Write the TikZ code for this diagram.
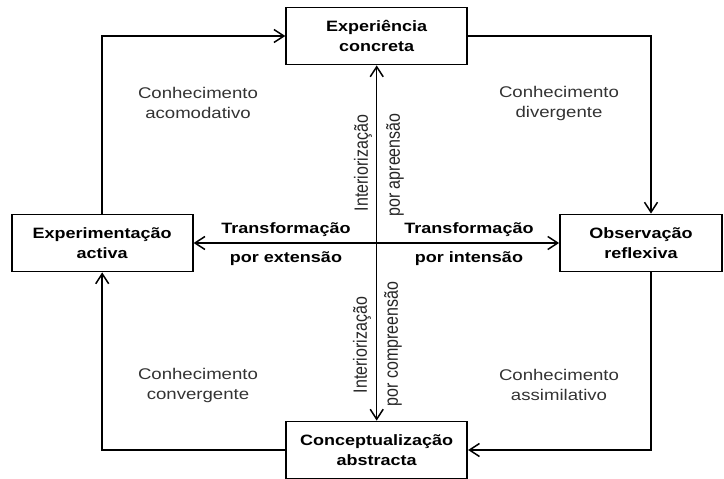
\documentclass[tikz,border=0pt]{standalone}
\usepackage{fontspec}
\setmainfont{Liberation Sans}[FakeStretch=1.2]
\newfontfamily\uprightfont{Liberation Sans}
\usetikzlibrary{arrows.meta}
\tikzset{
  stage/.style={draw, line width=1.8pt, minimum width=181pt, minimum height=57pt,
    inner sep=0pt, align=center, font=\fontsize{15}{20}\selectfont\bfseries},
  knowledge/.style={align=center, text=black!80, font=\fontsize{15.5}{20}\selectfont},
  transf/.style={font=\fontsize{15}{18}\selectfont\bfseries},
  inter/.style={rotate=90, yscale=1.2, inner sep=0pt, text=black!85,
    font=\uprightfont\fontsize{16}{18}\selectfont},
  flow/.style={line width=1.5pt, -{Straight Barb[length=10pt,width=13pt]}},
  axis/.style={line width=1.5pt, {Straight Barb[length=10pt,width=13pt]}-{Straight Barb[length=10pt,width=13pt]}},
}

\begin{document}
\begin{tikzpicture}[x=1pt, y=-1pt]
    \useasboundingbox (0,0) rectangle (724,479);
    % the four stages
    \node[stage] (concrete) at (376.7,36) {Experiência\\concreta};
    \node[stage] (active) at (102.2,243) {Experimentação\\activa};
    \node[stage, minimum width=162pt] (reflective) at (641,243) {Observação\\reflexiva};
    \node[stage] (abstract) at (376.7,450) {Conceptualização\\abstracta};
    % corners of the cycle
    \coordinate (nw) at (102.2,36);
    \coordinate (ne) at (651,36);
    \coordinate (se) at (651,450);
    \coordinate (sw) at (102.2,450);
    \draw[flow] (active.north) -- (nw) -- (concrete.west);
    \draw[flow] (concrete.east) -- (ne) -- (ne |- reflective.north);
    \draw[flow] (ne |- reflective.south) -- (se) -- (abstract.east);
    \draw[flow] (abstract.west) -- (sw) -- (active.south);
    % the two axes
    \draw[axis] (concrete.south) -- (abstract.north);
    \draw[axis] (active.east) -- (reflective.west);
    % knowledge kinds
    \node[knowledge] (accomm) at (198,103) {Conhecimento\\acomodativo};
    \node[knowledge] (diverg) at (559,103) {Conhecimento\\divergente};
    \node[knowledge] (converg) at (198,385) {Conhecimento\\convergente};
    \node[knowledge] (assim) at (559,385) {Conhecimento\\assimilativo};
    % transformation labels
    \node[transf] (extA) at (286,230) {Transformação};
    \node[transf] (extB) at (286,259) {por extensão};
    \node[transf] (intA) at (469,230) {Transformação};
    \node[transf] (intB) at (469,259) {por intensão};
    \node[inter] (apprA) at (363,163) {Interiorização};
    \node[inter] (apprB) at (395,165) {por apreensão};
    \node[inter] (compA) at (362,345) {Interiorização};
    \node[inter] (compB) at (393,344) {por compreensão};
\end{tikzpicture}
\end{document}
